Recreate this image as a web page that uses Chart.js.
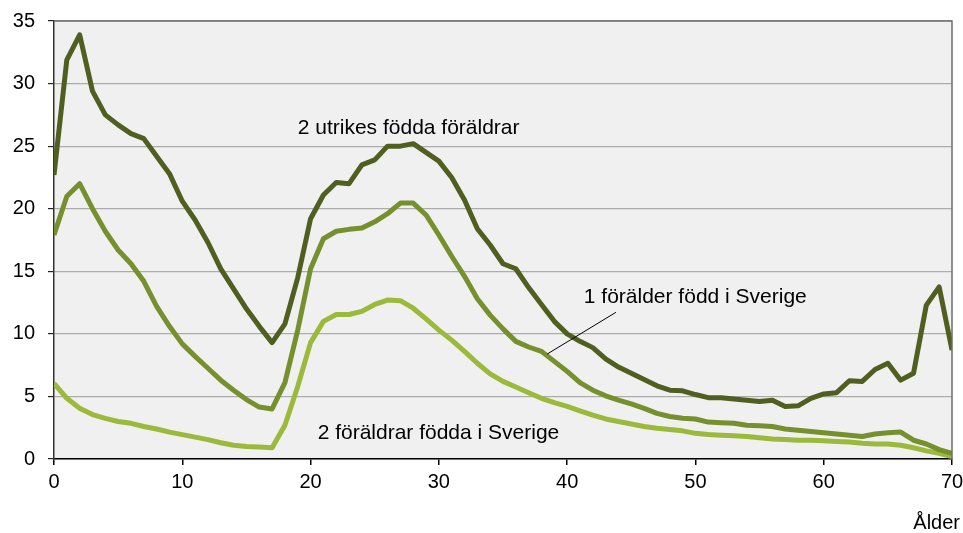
<!DOCTYPE html>
<html>
<head>
<meta charset="utf-8">
<script src="https://cdn.jsdelivr.net/npm/chart.js@4.4.1/dist/chart.umd.min.js"></script>
<style>
 body{margin:0;background:#fff;}
 #wrap{width:963px;height:533px;position:relative;}
</style>
</head>
<body>
<div id="wrap"><canvas id="myChart"></canvas></div>
<script>
// ålder 0-70
const ages=[0,1,2,3,4,5,6,7,8,9,10,11,12,13,14,15,16,17,18,19,20,21,22,23,24,25,26,27,28,29,30,31,32,33,34,35,36,37,38,39,40,41,42,43,44,45,46,47,48,49,50,51,52,53,54,55,56,57,58,59,60,61,62,63,64,65,66,67,68,69,70];

const twoForeign=[22.7,31.9,33.9,29.4,27.5,26.7,26.0,25.6,24.2,22.8,20.6,19.1,17.3,15.2,13.6,12.0,10.6,9.3,10.8,14.5,
 19.2,21.1,22.1,22.0,23.5,23.9,25.0,25.0,25.2,24.5,23.8,22.5,20.7,18.4,17.1,15.6,15.2,13.7,12.35,11.0,
 10.0,9.4,8.9,8.0,7.35,6.85,6.35,5.85,5.5,5.45,5.15,4.9,4.9,4.8,4.7,4.6,4.7,4.2,4.25,4.85,
 5.2,5.3,6.25,6.2,7.15,7.65,6.3,6.85,12.3,13.75,8.7];

const oneSwedish=[17.9,21.0,22.0,20.0,18.2,16.7,15.6,14.2,12.2,10.6,9.2,8.2,7.25,6.3,5.5,4.75,4.15,4.0,6.1,10.3,
 15.2,17.6,18.2,18.35,18.45,18.95,19.6,20.45,20.45,19.5,17.9,16.2,14.6,12.8,11.5,10.4,9.4,8.95,8.6,7.8,
 7.0,6.1,5.5,5.05,4.7,4.4,4.05,3.65,3.4,3.25,3.2,2.95,2.9,2.85,2.7,2.65,2.6,2.4,2.3,2.2,
 2.1,2.0,1.9,1.8,2.0,2.1,2.15,1.5,1.2,0.75,0.45];

const twoSwedish=[6.05,4.85,4.05,3.55,3.25,3.0,2.85,2.6,2.4,2.15,1.95,1.75,1.55,1.3,1.1,1.0,0.95,0.9,2.7,5.8,
 9.3,11.0,11.55,11.55,11.8,12.35,12.7,12.65,12.05,11.2,10.3,9.5,8.6,7.65,6.8,6.2,5.75,5.3,4.85,4.5,
 4.2,3.85,3.5,3.2,3.0,2.8,2.6,2.45,2.35,2.25,2.05,1.95,1.9,1.85,1.8,1.7,1.6,1.55,1.5,1.5,
 1.45,1.4,1.35,1.25,1.2,1.2,1.1,0.9,0.65,0.45,0.2];

const seriesNames=['2 utrikes födda föräldrar','1 förälder född i Sverige','2 föräldrar födda i Sverige'];
const yTicks=[0,5,10,15,20,25,30,35];
const xTicks=[0,10,20,30,40,50,60,70];

const FONT='"Liberation Sans", Arial, sans-serif';
const colors=['#505f1f','#76902e','#9bb93b'];

function pts(vals){return ages.map((a,i)=>({x:a,y:vals[i]}));}

const deco={
 id:'deco',
 beforeDraw(chart){
   const {ctx,chartArea:a}=chart;
   ctx.save();
   ctx.fillStyle='#f0f0f0';
   ctx.fillRect(a.left,a.top,a.right-a.left,a.bottom-a.top);
   ctx.restore();
 },
 afterDraw(chart){
   const {ctx,chartArea:a,scales}=chart;
   const xs=scales.x, ys=scales.y;
   ctx.save();
   // ram upptill och till höger
   ctx.strokeStyle='#6e6e6e';
   ctx.lineWidth=1.5;
   ctx.beginPath();
   ctx.moveTo(a.left,a.top);ctx.lineTo(a.right,a.top);ctx.lineTo(a.right,a.bottom);
   ctx.stroke();
   // pekarlinje
   ctx.strokeStyle='#000';
   ctx.lineWidth=1;
   ctx.beginPath();
   ctx.moveTo(xs.getPixelForValue(38.45),ys.getPixelForValue(8.39));
   ctx.lineTo(xs.getPixelForValue(43.8),ys.getPixelForValue(11.72));
   ctx.stroke();
   // etiketter
   ctx.fillStyle='#000';
   ctx.font='21px '+FONT;
   ctx.textBaseline='middle';
   ctx.textAlign='left';
   ctx.fillText(seriesNames[0],xs.getPixelForValue(19.0),ys.getPixelForValue(26.4));
   ctx.fillText(seriesNames[1],xs.getPixelForValue(41.3),ys.getPixelForValue(12.95));
   ctx.fillText(seriesNames[2],xs.getPixelForValue(20.55),ys.getPixelForValue(2.05));
   ctx.font='20px '+FONT;
   ctx.textAlign='right';
   ctx.fillText('Ålder',960,523);
   ctx.restore();
 }
};

const ctx=document.getElementById('myChart');
new Chart(ctx,{
 type:'line',
 data:{
   datasets:[
     {label:seriesNames[0],data:pts(twoForeign),borderColor:colors[0]},
     {label:seriesNames[1],data:pts(oneSwedish),borderColor:colors[1]},
     {label:seriesNames[2],data:pts(twoSwedish),borderColor:colors[2]}
   ]
 },
 options:{
   responsive:true,
   maintainAspectRatio:false,
   animation:false,
   layout:{padding:{top:21,right:11,left:0,bottom:0}},
   elements:{
     point:{radius:0},
     line:{borderWidth:5,tension:0,borderJoinStyle:'round',borderCapStyle:'butt'}
   },
   plugins:{legend:{display:false},tooltip:{enabled:false}},
   scales:{
     x:{
       type:'linear',min:0,max:70,
       afterBuildTicks(s){s.ticks=xTicks.map(v=>({value:v}));},
       afterFit(s){s.height=74;s.paddingLeft=0;s.paddingRight=0;},
       grid:{drawOnChartArea:false,tickLength:6,tickColor:'#000',lineWidth:1.5},
       border:{color:'#000',width:1.5},
       ticks:{color:'#000',font:{family:FONT,size:20},padding:5,maxRotation:0}
     },
     y:{
       min:0,max:35,
       afterBuildTicks(s){s.ticks=yTicks.map(v=>({value:v}));},
       afterFit(s){s.width=54;s.paddingTop=0;s.paddingBottom=0;},
       grid:{color:'#acacac',lineWidth:1.2,tickLength:6,tickColor:'#222'},
       border:{color:'#333',width:1.5},
       ticks:{color:'#000',font:{family:FONT,size:20},padding:13}
     }
   }
 },
 plugins:[deco]
});
</script>
</body>
</html>
